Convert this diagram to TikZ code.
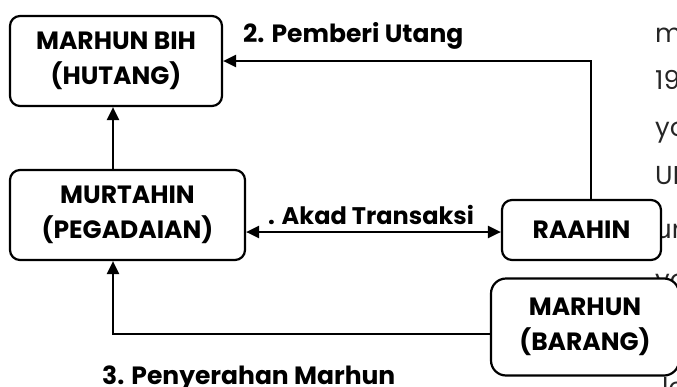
\documentclass[tikz,border=0pt]{standalone}
\usepackage{fontspec}
\setmainfont{Poppins}
\usetikzlibrary{arrows.meta}
\tikzset{
  box/.style={draw=black, line width=2.2pt, fill=white, rounded corners=10pt, align=center,
    font=\fontsize{25}{35}\selectfont\bfseries, inner sep=0pt},
  conn/.style={draw=black, line width=2.2pt},
  arr/.style={conn, -{Triangle[length=13pt,width=12pt]}},
  darr/.style={conn, {Triangle[length=13pt,width=12pt]}-{Triangle[length=13pt,width=12pt]}},
  lbl/.style={font=\fontsize{25}{28}\selectfont\bfseries, inner sep=0pt},
  frag/.style={font=\fontsize{26}{28}\selectfont, text=black!85, inner sep=0pt, anchor=base west}
}
\begin{document}
\begin{tikzpicture}[x=1pt,y=-1pt]
\useasboundingbox (0,0) rectangle (677,386);
\clip (0,0) rectangle (677,386);
% background text fragments
\node[frag] (f1) at (655,42) {m};
\node[frag] (f2) at (655,89) {19};
\node[frag] (f3) at (655,136) {yo};
\node[frag] (f4) at (655,184) {UM};
\node[frag] (f5) at (655,238) {ur};
\node[frag] (f6) at (655,288) {yo};
% boxes
\node[box, minimum width=212pt, minimum height=90pt] (bih) at (116,61) {MARHUN BIH\\(HUTANG)};
\node[box, minimum width=235pt, minimum height=90pt] (murt) at (127.5,215) {MURTAHIN\\(PEGADAIAN)};
\node[box, minimum width=159pt, minimum height=60pt] (raahin) at (581.5,230) {RAAHIN};
\node[box, rounded corners=15pt, minimum width=188pt, minimum height=97pt] (barang) at (585,327) {MARHUN\\(BARANG)};
\node[frag] (f7) at (662,396) {le};
% helper coordinates
\coordinate (cx1) at (113,0);
\coordinate (cx2) at (591,0);
\coordinate (cy1) at (0,232);
\coordinate (j) at (113,334);
% connectors
\draw[arr] (murt.north -| cx1) -- (bih.south -| cx1);
\draw[arr] (raahin.north -| cx2) |- (bih.east);
\draw[darr] (murt.east |- cy1) -- (raahin.west |- cy1);
\draw[arr] (barang.west |- j) -- (j) -- (murt.south -| j);
% labels
\node[lbl, anchor=base west] (l2) at (243,42) {2. Pemberi Utang};
\node[lbl, anchor=base west, font=\fontsize{24}{28}\selectfont\bfseries] (l1) at (268,224) {. Akad Transaksi};
\node[lbl, anchor=base west] (l3) at (102,384) {3. Penyerahan Marhun};
\end{tikzpicture}
\end{document}
